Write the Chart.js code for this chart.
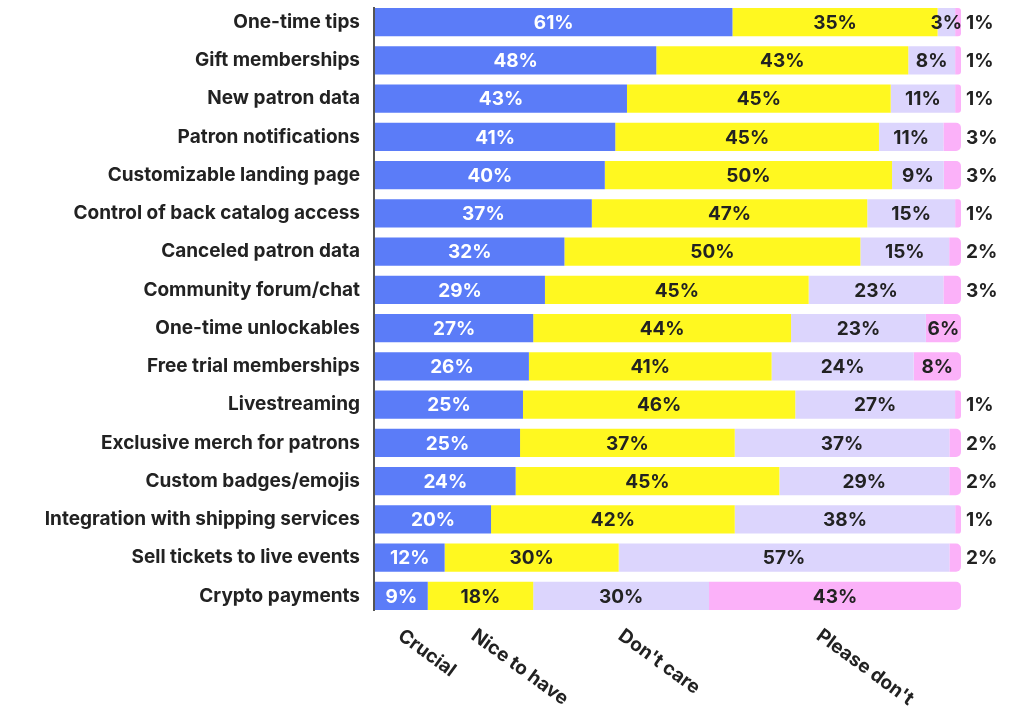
<!DOCTYPE html>
<html><head><meta charset="utf-8">
<script src="https://cdn.jsdelivr.net/npm/chart.js@4.4.1/dist/chart.umd.min.js"></script>
<style>html,body{margin:0;padding:0;background:#fff}#wrap{width:1035px;height:712px;position:relative}</style>
</head><body><div id="wrap"><canvas id="c"></canvas></div>
<script>
const categories = [
  'One-time tips','Gift memberships','New patron data','Patron notifications',
  'Customizable landing page','Control of back catalog access','Canceled patron data',
  'Community forum/chat','One-time unlockables','Free trial memberships','Livestreaming',
  'Exclusive merch for patrons','Custom badges/emojis','Integration with shipping services',
  'Sell tickets to live events','Crypto payments'
];
const seriesNames = ['Crucial', 'Nice to have', "Don't care", "Please don't"];
const crucial    = [61,48,43,41,40,37,32,29,27,26,25,25,24,20,12,9];
const niceToHave = [35,43,45,45,50,47,50,45,44,41,46,37,45,42,30,18];
const dontCare   = [3,8,11,11,9,15,15,23,23,24,27,37,29,38,57,30];
const pleaseDont = [1,1,1,3,3,1,2,3,6,8,1,2,2,1,2,43];

const colors = ['#5b7cf8', '#fff820', '#dcd5fd', '#fbb1f9'];
const legendPos = [4.9, 17.4, 42.5, 76.3];
const FONT = '"Inter", "Noto Sans", sans-serif';
const TEXT = '#222222';
const FSIZE = 19;
const FWEIGHT = '700';

const series = [crucial, niceToHave, dontCare, pleaseDont];
const totals = categories.map((_, i) => series.reduce((s, a) => s + a[i], 0));

const datasets = series.map((arr, di) => ({
  label: seriesNames[di],
  raw: arr,
  data: arr.map((v, i) => v / totals[i] * 100),
  backgroundColor: colors[di],
  borderWidth: 0,
  borderRadius: di === 3 ? {topLeft: 0, bottomLeft: 0, topRight: 5, bottomRight: 5} : 0,
  borderSkipped: 'start',
  barPercentage: 0.74,
  categoryPercentage: 1.0
}));

const labelPlugin = {
  id: 'labels',
  afterDatasetsDraw(chart) {
    const ctx = chart.ctx;
    ctx.save();
    ctx.font = FWEIGHT + ' ' + FSIZE + 'px ' + FONT;
    ctx.textBaseline = 'middle';
    chart.data.datasets.forEach((ds, di) => {
      const meta = chart.getDatasetMeta(di);
      meta.data.forEach((bar, i) => {
        const txt = ds.raw[i] + '%';
        const p = bar.getProps(['x', 'y', 'base'], true);
        if (di === 3 && ds.raw[i] < 5) {
          ctx.textAlign = 'left';
          ctx.fillStyle = TEXT;
          ctx.fillText(txt, p.x + 5, p.y + 1);
        } else {
          ctx.textAlign = 'center';
          ctx.fillStyle = di === 0 ? '#ffffff' : TEXT;
          ctx.fillText(txt, (p.x + p.base) / 2, p.y + 1);
        }
      });
    });
    // axis line from top of first bar to bottom of last bar
    const m0 = chart.getDatasetMeta(0).data;
    const first = m0[0].getProps(['y', 'height'], true);
    const last = m0[m0.length - 1].getProps(['y', 'height'], true);
    ctx.strokeStyle = '#555555';
    ctx.lineWidth = 2;
    ctx.beginPath();
    const lx = chart.chartArea.left - 1;
    ctx.moveTo(lx, first.y - first.height / 2 - 1);
    ctx.lineTo(lx, last.y + last.height / 2 + 1);
    ctx.stroke();
    // rotated legend labels
    const xs = chart.scales.x;
    ctx.fillStyle = TEXT;
    ctx.textAlign = 'left';
    ctx.textBaseline = 'top';
    seriesNames.forEach((name, k) => {
      ctx.save();
      ctx.translate(xs.getPixelForValue(legendPos[k]) + 2, chart.chartArea.bottom + 11);
      ctx.rotate(36 * Math.PI / 180);
      ctx.fillText(name, 0, 0);
      ctx.restore();
    });
    ctx.restore();
  }
};

new Chart(document.getElementById('c'), {
  type: 'bar',
  data: { labels: categories, datasets },
  options: {
    indexAxis: 'y',
    responsive: true,
    maintainAspectRatio: false,
    animation: false,
    layout: { padding: { left: 0, right: 74, top: 3, bottom: 97 } },
    plugins: { legend: { display: false }, tooltip: { enabled: false } },
    scales: {
      x: { stacked: true, min: 0, max: 100, display: false },
      y: {
        stacked: true,
        grid: { display: false },
        border: { display: false },
        ticks: { color: TEXT, padding: 7, font: { family: FONT, size: FSIZE, weight: FWEIGHT } },
        afterFit(scale) { scale.width = 375; scale.paddingTop = 0; scale.paddingBottom = 0; }
      }
    }
  },
  plugins: [labelPlugin]
});
</script>
</body></html>
